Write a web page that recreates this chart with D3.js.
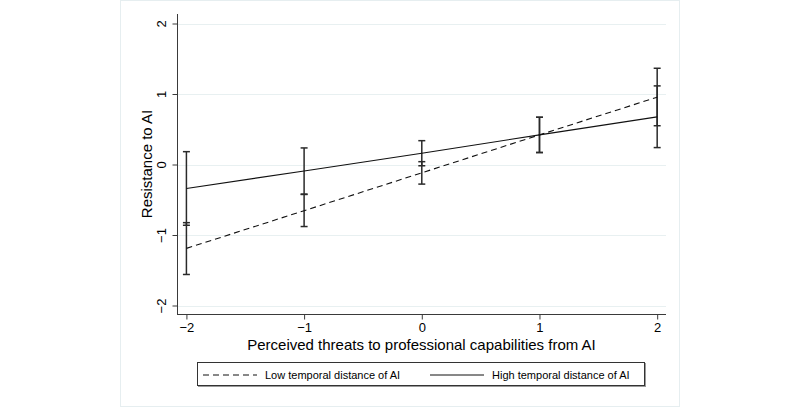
<!DOCTYPE html>
<html>
<head>
    <meta charset="utf-8">
    <title>margins plot</title>
    <script src="https://cdn.jsdelivr.net/npm/d3@7"></script>
    <style type="text/css">
        body { margin: 0; background: #ffffff; font-family: "Liberation Sans", Arial, sans-serif; }
        .axis path, .axis line { stroke: #3a3a3a; }
        .axis text { font-size: 13px; fill: #000; font-family: "Liberation Sans", Arial, sans-serif; }
        .grid { stroke: #e8f0f1; stroke-width: 1; }
        .lbl { font-size: 15px; fill: #000; }
        .legLabel { font-size: 11px; fill: #000; }
    </style>
</head>
<body>
<div id="chart"></div>
<script>
// x values (perceived threats)
var xVals = [-2, -1, 0, 1, 2];
var yTicks = [-2, -1, 0, 1, 2];

// Low temporal distance of AI (dashed)
var lowMean = [-1.19, -0.655, -0.118, 0.42, 0.955];
var lowLo   = [-1.56, -0.88, -0.278, 0.17, 0.55];
var lowHi   = [-0.825, -0.425, 0.04, 0.67, 1.365];

// High temporal distance of AI (solid)
var highMean = [-0.34, -0.092, 0.16, 0.42, 0.675];
var highLo   = [-0.862, -0.42, -0.018, 0.17, 0.24];
var highHi   = [0.182, 0.235, 0.338, 0.67, 1.115];

var seriesNames = ['Low temporal distance of AI', 'High temporal distance of AI'];

var width = 800, height = 408;

var svg = d3.select('#chart').append('svg')
            .attr('width', width).attr('height', height);

// graph region frame
svg.append('rect')
   .attr('x', 120.5).attr('y', 0.5)
   .attr('width', 559).attr('height', 406)
   .attr('fill', '#ffffff')
   .attr('stroke', '#e6eef0');

var x = d3.scaleLinear().domain([-2.08, 2.075]).range([177, 666]);
var y = d3.scaleLinear().domain([-2, 2]).range([305.5, 23.5]);
var yTop = 14, yBottom = 314;
var fmt = d3.format('d');

// gridlines
svg.append('g').selectAll('line')
   .data(yTicks)
   .enter().append('line')
   .attr('class', 'grid')
   .attr('x1', 177).attr('x2', 666)
   .attr('y1', function(d) { return Math.round(y(d)) + 0.5; })
   .attr('y2', function(d) { return Math.round(y(d)) + 0.5; });

// axes
var yAxis = d3.axisLeft(y).tickValues(yTicks).tickFormat(fmt).tickSize(5).tickSizeOuter(0);
var gy = svg.append('g').attr('class', 'axis')
            .attr('transform', 'translate(177.5,0)')
            .call(yAxis);
gy.select('.domain').attr('d', 'M0,' + yTop + 'V' + yBottom);
gy.selectAll('.tick text')
  .attr('transform', 'rotate(-90)')
  .attr('x', 0).attr('y', -12)
  .attr('dy', 0)
  .style('text-anchor', 'middle');

var xAxis = d3.axisBottom(x).tickValues(xVals).tickFormat(fmt).tickSize(5).tickSizeOuter(0);
var gx = svg.append('g').attr('class', 'axis')
            .attr('transform', 'translate(0,' + (yBottom + 0.5) + ')')
            .call(xAxis);
gx.select('.domain').attr('d', 'M177,0H666');
gx.selectAll('.tick text').attr('y', 8).attr('dy', '0.71em');

// axis titles
svg.append('text').attr('class', 'lbl')
   .attr('x', (177 + 666) / 2).attr('y', 350)
   .attr('text-anchor', 'middle')
   .text('Perceived threats to professional capabilities from AI');

svg.append('text').attr('class', 'lbl')
   .attr('transform', 'translate(152,' + ((yTop + yBottom) / 2) + ') rotate(-90)')
   .attr('text-anchor', 'middle')
   .text('Resistance to AI');

// error bars
function errorBars(lo, hi) {
    var g = svg.append('g').attr('stroke', '#2a2a2a').attr('stroke-width', 1.5).attr('fill', 'none');
    g.selectAll('.v').data(xVals).enter().append('line')
     .attr('x1', function(d) { return x(d); }).attr('x2', function(d) { return x(d); })
     .attr('y1', function(d, i) { return y(lo[i]); })
     .attr('y2', function(d, i) { return y(hi[i]); });
    [lo, hi].forEach(function(arr) {
        g.selectAll(null).data(xVals).enter().append('line')
         .attr('x1', function(d) { return x(d) - 3.5; }).attr('x2', function(d) { return x(d) + 3.5; })
         .attr('y1', function(d, i) { return y(arr[i]); })
         .attr('y2', function(d, i) { return y(arr[i]); });
    });
}
errorBars(lowLo, lowHi);
errorBars(highLo, highHi);

// lines
var line = d3.line()
             .x(function(d) { return x(d[0]); })
             .y(function(d) { return y(d[1]); });

svg.append('path')
   .datum(d3.zip(xVals, lowMean))
   .attr('d', line)
   .attr('fill', 'none').attr('stroke', '#111').attr('stroke-width', 1.1)
   .attr('stroke-dasharray', '6,4');

svg.append('path')
   .datum(d3.zip(xVals, highMean))
   .attr('d', line)
   .attr('fill', 'none').attr('stroke', '#111').attr('stroke-width', 1.1);

// legend
var lg = svg.append('g');
lg.append('rect').attr('x', 198).attr('y', 363).attr('width', 448).attr('height', 24)
  .attr('fill', '#9a9a9a');
lg.append('rect').attr('x', 197.5).attr('y', 362.5).attr('width', 447).attr('height', 23)
  .attr('fill', '#ffffff').attr('stroke', '#333').attr('stroke-width', 1);

var legItems = [
    {name: seriesNames[0], dash: '6,4', x0: 203, tx: 265},
    {name: seriesNames[1], dash: null, x0: 430, tx: 492}
];
legItems.forEach(function(it) {
    lg.append('line')
      .attr('x1', it.x0).attr('x2', it.x0 + 54)
      .attr('y1', 375).attr('y2', 375)
      .attr('stroke', '#111').attr('stroke-width', 1)
      .attr('stroke-dasharray', it.dash);
    lg.append('text').attr('class', 'legLabel')
      .attr('x', it.tx).attr('y', 379)
      .text(it.name);
});
</script>
</body>
</html>
